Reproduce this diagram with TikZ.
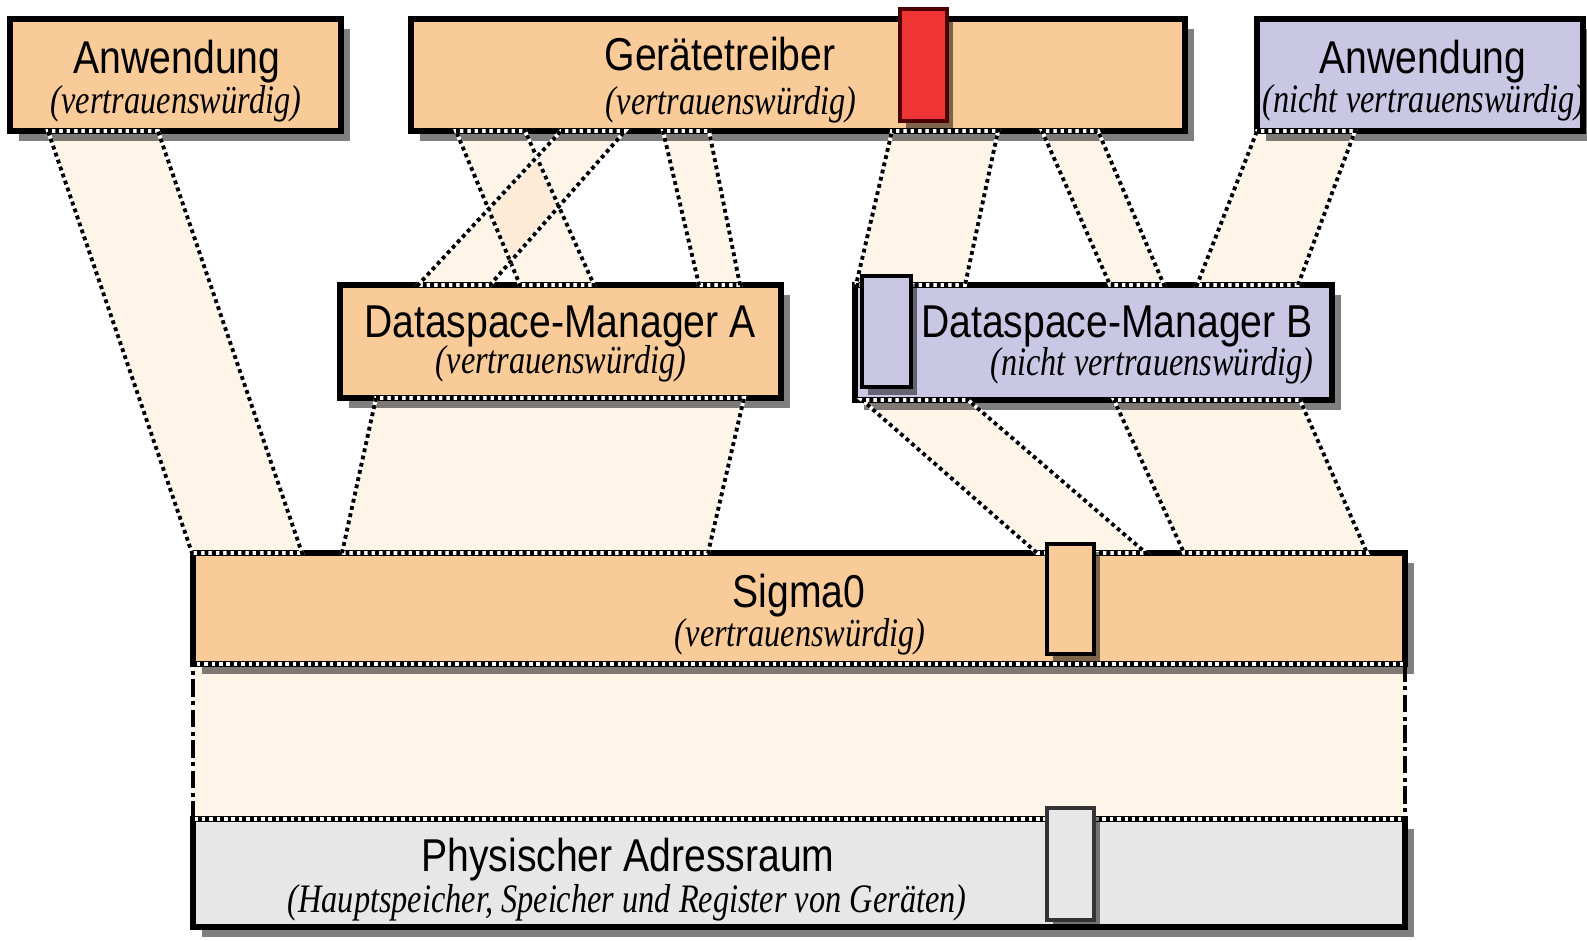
\documentclass[tikz,border=0pt]{standalone}
\usepackage{fontspec}
\newfontfamily\ttlfont[FakeStretch=0.85]{Liberation Sans}
\newfontfamily\subfont[FakeStretch=0.8]{Liberation Serif}
\usetikzlibrary{fit,shadows}
\definecolor{peach}{HTML}{F9CB98}
\definecolor{lilac}{HTML}{C9C7E3}
\definecolor{lightgrey}{HTML}{E6E7E6}
\definecolor{alarm}{HTML}{EE3434}
% name, x top-left, y top, x top-right, x bottom-right, x bottom-left, y bottom
\newcommand\mkband[7]{%
  \coordinate (#1a) at (#2,#3); \coordinate (#1b) at (#4,#3);
  \coordinate (#1c) at (#5,#7); \coordinate (#1d) at (#6,#7);}
\begin{document}
\begin{tikzpicture}[x=0.1mm,y=-0.1mm,
  mainbox/.style={draw=black,line width=1.6pt,inner sep=0pt,outer sep=0pt,
     drop shadow={shadow xshift=0.9mm,shadow yshift=-1mm,fill=black,opacity=0.5}},
  smallbox/.style={draw=black,line width=0.9pt,inner sep=0pt,outer sep=0pt,
     drop shadow={shadow xshift=0.6mm,shadow yshift=-0.8mm,fill=black,opacity=0.5}},
  bandfill/.style={fill=peach,fill opacity=0.22},
  bandedge/.style={line width=1.1pt,dash pattern=on 1.1pt off 1pt,black},
  bandunder/.style={line width=1.1pt,white},
  sideedge/.style={line width=1.1pt,dash pattern=on 5pt off 1.3pt on 1.1pt off 1.3pt,black},
  ttl/.style={font=\ttlfont\fontsize{13.1pt}{15pt}\selectfont,anchor=base,inner sep=0pt},
  subttl/.style={font=\subfont\itshape\fontsize{11.5pt}{14pt}\selectfont,anchor=base,inner sep=0pt},
]
\path[use as bounding box,clip] (0,0) rectangle (1587,940);

\mkband{ba}{48}{131}{158}{302}{192}{553}
\mkband{bb}{456}{131}{525}{594}{520}{285}
\mkband{bc}{561}{131}{625}{490}{418}{285}
\mkband{bd}{663}{131}{709}{740}{699}{285}
\mkband{be}{376}{398}{744}{708}{342}{553}
\mkband{bf}{892}{131}{998}{965}{856}{285}
\mkband{bg}{1042}{131}{1098}{1164}{1110}{285}
\mkband{bh}{1257}{131}{1355}{1298}{1197}{285}
\mkband{bi}{862}{400}{968}{1146}{1037}{553}
\mkband{bj}{1114}{400}{1300}{1367}{1184}{553}
\mkband{bk}{193}{664}{1405}{1405}{193}{819}

% band fills
\foreach \b in {ba,bb,bc,bd,be,bf,bg,bh,bi,bj,bk}
  \fill[bandfill] (\b a) -- (\b b) -- (\b c) -- (\b d) -- cycle;

% main boxes
\node[mainbox,fill=peach,fit={(10,19) (341,131)}] (anwL) {};
\node[mainbox,fill=peach,fit={(411,19) (1185,131)}] (geraet) {};
\node[mainbox,fill=lilac,fit={(1257,19) (1583,131)}] (anwR) {};
\node[mainbox,fill=peach,fit={(340,285) (781,398)}] (dmA) {};
\node[mainbox,fill=lilac,fit={(855,285) (1332,400)}] (dmB) {};
\node[mainbox,fill=peach,fit={(193,553) (1405,664)}] (sigma) {};
\node[mainbox,fill=lightgrey,fit={(193,819) (1405,927)}] (phys) {};

% band outlines
\foreach \b in {ba,bb,bc,bd,be,bf,bg,bh,bi,bj}{
  \draw[bandunder] (\b a) -- (\b b) -- (\b c) -- (\b d) -- cycle;
  \draw[bandedge] (\b a) -- (\b b) -- (\b c) -- (\b d) -- cycle;}
\draw[bandunder] (bka) -- (bkb) (bkc) -- (bkd);
\draw[bandedge] (bka) -- (bkb) (bkc) -- (bkd);
\draw[sideedge] (bkb) -- (bkc) (bkd) -- (bka);

% small blocks
\node[smallbox,fill=alarm,draw=black!70!red,fit={(900,9) (947,121)}] (redtab) {};
\node[smallbox,fill=lilac,fit={(862,276) (911,387)}] (lilactab) {};
\node[smallbox,fill=peach,fit={(1047,544) (1094,654)}] (sigtab) {};
\node[smallbox,fill=lightgrey,draw=black!80,fit={(1047,808) (1094,920)}] (phystab) {};

% texts
\node[ttl] (anwLt) at (177,73) {Anwendung};
\node[subttl] (anwLs) at (176,113) {(vertrauenswürdig)};
\node[ttl] (geraett) at (720,71) {Gerätetreiber};
\node[subttl] (geraets) at (731,114) {(vertrauenswürdig)};
\node[ttl] (anwRt) at (1423,73) {Anwendung};
\node[subttl] (anwRs) at (1424,112) {(nicht vertrauenswürdig)};
\node[ttl] (dmAt) at (560,337) {Dataspace-Manager A};
\node[subttl] (dmAs) at (561,373) {(vertrauenswürdig)};
\node[ttl] (dmBt) at (1117,337) {Dataspace-Manager B};
\node[subttl] (dmBs) at (1152,375) {(nicht vertrauenswürdig)};
\node[ttl] (sigmat) at (799,607) {Sigma0};
\node[subttl] (sigmas) at (800,646) {(vertrauenswürdig)};
\node[ttl] (physt) at (628,871) {Physischer Adressraum};
\node[subttl] (physs) at (627,912) {(Hauptspeicher, Speicher und Register von Geräten)};
\end{tikzpicture}
\end{document}
